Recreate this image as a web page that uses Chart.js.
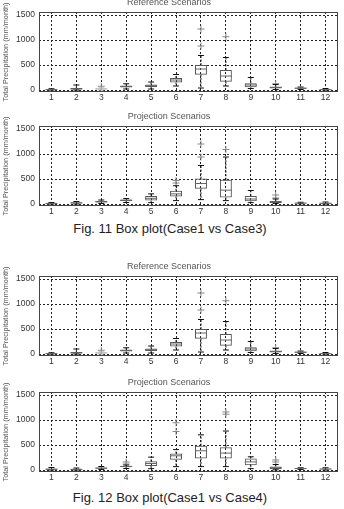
<!DOCTYPE html>
<html>
<head>
<meta charset="utf-8">
<script src="https://cdn.jsdelivr.net/npm/chart.js@4.4.1/dist/chart.umd.min.js"></script>
<style>
  html, body { margin: 0; padding: 0; background: #fff; }
  body { width: 344px; height: 509px; position: relative; overflow: hidden; font-family: "Liberation Sans", Arial, sans-serif; }
  canvas { position: absolute; left: 0; }
  .caption { position: absolute; left: 0; width: 340px; text-align: center; font-size: 13px; line-height: 15px; color: #222; }
</style>
</head>
<body>
<canvas id="c1" width="344" height="107" style="top:-3px"></canvas>
<canvas id="c2" width="344" height="107" style="top:111px"></canvas>
<div class="caption" style="top:221px">Fig. 11 Box plot(Case1 vs Case3)</div>
<canvas id="c3" width="344" height="107" style="top:261px"></canvas>
<canvas id="c4" width="344" height="107" style="top:377px"></canvas>
<div class="caption" style="top:490px">Fig. 12 Box plot(Case1 vs Case4)</div>

<script>
const months = ['1', '2', '3', '4', '5', '6', '7', '8', '9', '10', '11', '12'];
const yTicks = [0, 500, 1000, 1500];

/* Reference Scenarios (Case1) */
const refMin = [0, 0, 0, 20, 20, 80, 40, 80, 30, 10, 10, 0];
const refQ1 = [3, 12, 10, 50, 60, 150, 307, 167, 55, 30, 25, 2];
const refMed = [8, 22, 20, 70, 85, 200, 420, 280, 100, 50, 35, 7];
const refQ3 = [15, 38, 35, 90, 110, 240, 500, 400, 133, 70, 50, 15];
const refMax = [25, 100, 60, 125, 160, 310, 690, 650, 250, 110, 60, 30];
const refOut = [[3, 75], [7, 880], [7, 1220], [8, 1065], [10, 125]];

/* Projection Scenarios (Case3) */
const c3Min = [0, 0, 10, 30, 27, 68, 88, 68, 27, 10, 5, 0];
const c3Q1 = [5, 12, 30, 60, 68, 152, 306, 128, 54, 20, 10, 5];
const c3Med = [12, 22, 45, 75, 115, 203, 410, 277, 100, 40, 18, 15];
const c3Q3 = [20, 35, 60, 90, 162, 266, 510, 486, 162, 60, 25, 25];
const c3Max = [30, 50, 80, 110, 203, 366, 770, 940, 270, 100, 35, 40];
const c3Out = [[6, 420], [6, 470], [7, 940], [7, 1200], [8, 1090], [10, 120], [10, 180]];

/* Projection Scenarios (Case4) */
const c4Min = [0, 0, 10, 30, 27, 68, 68, 68, 27, 5, 10, 0];
const c4Q1 = [5, 5, 25, 55, 81, 203, 230, 230, 95, 20, 20, 10];
const c4Med = [15, 12, 38, 70, 130, 284, 385, 338, 162, 45, 28, 20];
const c4Q3 = [30, 25, 50, 85, 176, 331, 487, 453, 230, 70, 35, 30];
const c4Max = [50, 40, 70, 100, 257, 408, 703, 780, 264, 110, 45, 45];
const c4Out = [[4, 120], [4, 160], [6, 770], [6, 945], [8, 1115], [8, 1160], [10, 160], [10, 200]];

const FONT = '"Liberation Sans", Arial, sans-serif';

/* whiskers, caps and medians, placed from the bar elements + y scale */
function whiskers(s) {
  return {
    id: 'whiskers',
    afterDatasetsDraw(chart) {
      const ctx = chart.ctx;
      const y = chart.scales.y;
      chart.getDatasetMeta(0).data.forEach((bar, i) => {
        const x = bar.x;
        const half = bar.width / 2;
        const cap = bar.width / 4;
        const faint = s.faint === i;
        ctx.save();
        ctx.lineWidth = 1;
        ctx.strokeStyle = faint ? '#aaa' : '#111';
        ctx.setLineDash([2, 1.5]);
        ctx.beginPath();
        ctx.moveTo(x, y.getPixelForValue(s.q3[i]));
        ctx.lineTo(x, y.getPixelForValue(s.max[i]));
        ctx.moveTo(x, y.getPixelForValue(s.q1[i]));
        ctx.lineTo(x, y.getPixelForValue(s.min[i]));
        ctx.stroke();
        ctx.setLineDash([]);
        ctx.beginPath();
        [s.max[i], s.min[i]].forEach(v => {
          const py = y.getPixelForValue(v);
          ctx.moveTo(x - cap, py);
          ctx.lineTo(x + cap, py);
        });
        ctx.stroke();
        ctx.strokeStyle = faint ? '#bbb' : '#666';
        ctx.beginPath();
        const pm = y.getPixelForValue(s.med[i]);
        ctx.moveTo(x - half, pm);
        ctx.lineTo(x + half, pm);
        ctx.stroke();
        ctx.restore();
      });
    }
  };
}

const frame = {
  id: 'frame',
  afterDraw(chart) {
    const { left, top, right, bottom } = chart.chartArea;
    const ctx = chart.ctx;
    ctx.save();
    ctx.strokeStyle = '#444';
    ctx.lineWidth = 1;
    ctx.strokeRect(Math.round(left) + 0.5, Math.round(top) + 0.5, Math.round(right - left) - 1, Math.round(bottom - top) - 1);
    ctx.restore();
  }
};

function boxPlot(id, title, s) {
  const boxColors = months.map((m, i) => s.faint === i ? '#aaa' : '#555');
  return new Chart(document.getElementById(id), {
    type: 'bar',
    data: {
      labels: months,
      datasets: [
        {
          data: s.q1.map((v, i) => [v, s.q3[i]]),
          backgroundColor: 'rgba(0,0,0,0)',
          borderColor: boxColors,
          borderWidth: 1,
          borderSkipped: false,
          barPercentage: 0.48,
          categoryPercentage: 1
        },
        {
          type: 'line',
          data: s.out.map(([m, v]) => ({ x: String(m), y: v })),
          showLine: false,
          pointStyle: 'cross',
          pointRadius: 3.5,
          borderColor: '#8a8a8a',
          borderWidth: 1
        }
      ]
    },
    options: {
      responsive: false,
      animation: false,
      layout: { padding: { right: 6 } },
      plugins: {
        legend: { display: false },
        tooltip: { enabled: false },
        title: {
          display: true,
          text: title,
          color: '#555',
          font: { family: FONT, size: 9, weight: 'normal' },
          padding: { top: 0, bottom: 4.2 }
        }
      },
      scales: {
        x: {
          grid: { color: '#222', offset: false, drawTicks: false },
          border: { display: false, dash: [2, 2] },
          ticks: { color: '#333', font: { family: FONT, size: 8.5 }, padding: 1 },
          afterFit: sc => { sc.height = 12; }
        },
        y: {
          min: -40,
          max: 1560,
          afterBuildTicks: sc => { sc.ticks = yTicks.map(v => ({ value: v })); },
          grid: { color: '#222', drawTicks: false },
          border: { display: false, dash: [2, 2] },
          ticks: {
            color: '#333',
            font: { family: FONT, size: 8.5 },
            padding: 4,
            callback: v => String(v)
          },
          title: {
            display: true,
            text: 'Total Precipitation (mm/month)',
            color: '#555',
            font: { family: FONT, size: 7.3 },
            padding: { top: 1.5, bottom: 0 }
          },
          afterFit: sc => { sc.width = 39; }
        }
      }
    },
    plugins: [whiskers(s), frame]
  });
}

const ref = { min: refMin, q1: refQ1, med: refMed, q3: refQ3, max: refMax, out: refOut, faint: 2 };
const case3 = { min: c3Min, q1: c3Q1, med: c3Med, q3: c3Q3, max: c3Max, out: c3Out };
const case4 = { min: c4Min, q1: c4Q1, med: c4Med, q3: c4Q3, max: c4Max, out: c4Out };

boxPlot('c1', 'Reference Scenarios', ref);
boxPlot('c2', 'Projection Scenarios', case3);
boxPlot('c3', 'Reference Scenarios', ref);
boxPlot('c4', 'Projection Scenarios', case4);
</script>
</body>
</html>
